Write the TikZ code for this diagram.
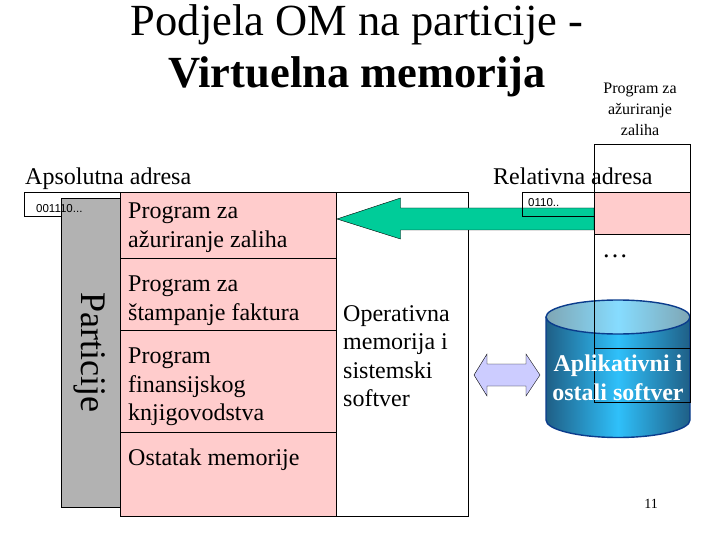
\documentclass[tikz,border=0pt]{standalone}
\usepackage{fontspec}
\usepackage{xcolor}
\setmainfont{Liberation Serif}
\newfontfamily\addrfont{Liberation Sans}
\usetikzlibrary{positioning,calc}
\definecolor{Part}{HTML}{FFCCCC}
\definecolor{Rest}{HTML}{B2B2B2}
\definecolor{Move}{HTML}{00CC99}
\definecolor{Swap}{HTML}{CCCCFF}
\definecolor{DiskEdge}{HTML}{0B3C8C}
\definecolor{DiskDark}{HTML}{1F5F86}
\definecolor{DiskMid}{HTML}{2FC0FA}
\definecolor{LidDark}{HTML}{7FA6B4}
\definecolor{LidMid}{HTML}{86DCFF}
\newcommand{\bodysize}{\fontsize{24}{28.6}\selectfont}
\tikzset{
  cell/.style={draw,line width=.8pt},
  txt/.style={inner sep=0pt,anchor=north west,align=left,font=\bodysize},
  addr/.style={inner sep=0pt,anchor=west,font=\addrfont\fontsize{11.5}{13}\selectfont}
}
\begin{document}
\begin{tikzpicture}[x=1pt,y=-1pt,>=latex]
  \useasboundingbox (0,0) rectangle (720,540);
  % left memory column
  \draw[cell] (24.5,192.5) rectangle (120,216);
  \draw[cell,fill=Rest] (61.5,198) rectangle (120,507);
  \draw[cell,fill=Part] (120,192.5) rectangle (336,516);
  \draw[cell] (336,192.5) rectangle (468,516);
  \draw[cell] (120,258) -- (336,258);
  \draw[cell] (120,330) -- (336,330);
  \draw[cell] (120,432) -- (336,432);
  % disk
  \shade[left color=DiskDark,right color=DiskDark,middle color=DiskMid]
    (546,317) -- (546,420) arc[start angle=180,end angle=0,x radius=72,y radius=17.5]
    -- (690,317) -- cycle;
  \shade[left color=LidDark,right color=LidDark,middle color=LidMid]
    (618,317) ellipse[x radius=72,y radius=17];
  \draw[DiskEdge,line width=1.4pt] (546,317) -- (546,420)
    arc[start angle=180,end angle=0,x radius=72,y radius=17.5] -- (690,317);
  \draw[DiskEdge,line width=1.4pt] (618,317) ellipse[x radius=72,y radius=17];
  % arrows
  \draw[line width=.4pt,fill=Swap] (474,375) -- (487,354) -- (487,364) -- (526,364) -- (526,354)
    -- (540,375) -- (526,396) -- (526,386) -- (487,386) -- (487,396) -- cycle;
  \draw[line width=.4pt,fill=Move] (337,219) -- (400.5,198) -- (400.5,208) -- (594,208)
    -- (594,230) -- (400.5,230) -- (400.5,239) -- cycle;
  \draw[cell] (522,192.5) rectangle (594,216);
  % right program column
  \fill[Part] (594.5,192.5) rectangle (690.5,234);
  \draw[cell] (594.5,144.5) rectangle (690.5,402);
  \draw[cell] (594.5,192.5) -- (690.5,192.5);
  \draw[cell] (594.5,234) -- (690.5,234);
  \draw[cell] (594.5,348) -- (690.5,348);
  % labels
  \node[inner sep=0pt,align=center,anchor=base,font=\fontsize{44.5}{52}\selectfont] (title) at (357,88)
    {Podjela OM na particije -\\ \textbf{Virtuelna memorija}};
  \node[inner sep=0pt,align=center,anchor=north,font=\fontsize{16}{21}\selectfont] (prog) at (640,83)
    {Program za\\ ažuriranje\\ zaliha};
  \node[txt] (abs) at (25,168) {Apsolutna adresa};
  \node[txt] (rel) at (493,168) {Relativna adresa};
  \node[addr] (absval) at (36,209) {001110...};
  \node[addr] (relval) at (528,203) {0110..};
  \node[inner sep=0pt,rotate=-90,font=\fontsize{36}{40}\selectfont] (parts) at (90,352) {Particije};
  \node[txt] (p1) at (128,203) {Program za\\ ažuriranje zaliha};
  \node[txt] (p2) at (128,276) {Program za\\ štampanje faktura};
  \node[txt] (p3) at (128,347.5) {Program\\ finansijskog\\ knjigovodstva};
  \node[txt] (p4) at (128,449) {Ostatak memorije};
  \node[txt] (os) at (343,305) {Operativna\\ memorija i\\ sistemski\\ softver};
  \node[inner sep=0pt,font=\fontsize{26}{26}\selectfont] (dots) at (615,256) {\dots};
  \node[inner sep=0pt,align=center,text=white,font=\fontsize{24}{28.6}\bfseries\selectfont] (app) at (618,378)
    {Aplikativni i\\ ostali softver};
  \node[inner sep=0pt,font=\fontsize{14}{16}\selectfont] (num) at (651,504) {11};
\end{tikzpicture}
\end{document}
